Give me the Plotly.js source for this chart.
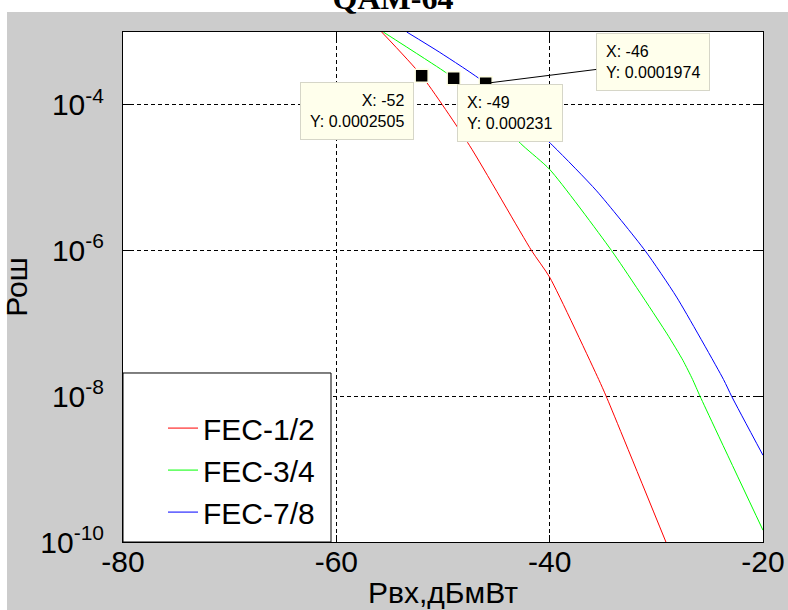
<!DOCTYPE html>
<html>
<head>
<meta charset="utf-8">
<script src="https://cdn.plot.ly/plotly-3.0.1.min.js"></script>
<style>html,body{margin:0;padding:0;background:#fff;}#chart{width:788px;height:610px;}</style>
</head>
<body>
<div id="chart"></div>
<script>
// Series (x in dBm, y = bit error probability)
var seriesNames = ['FEC-1/2', 'FEC-3/4', 'FEC-7/8'];
var seriesColors = ['#ff0000', '#00ff00', '#0000ff'];

var xFec12 = [-55.75, -52, -47.5, -41.7, -40, -35.4, -34.7, -29.1];
var yFec12 = [1.0e-3, 2.505e-4, 2.75e-5, 1.0e-6, 4.3e-7, 1.7e-8, 1.0e-8, 1.0e-10];

var xFec34 = [-55.6, -50, -49, -42.5, -40, -34.2, -29.0, -27.5, -26.6, -25.9, -20];
var yFec34 = [1.0e-3, 2.95e-4, 2.31e-4, 2.75e-5, 1.3e-5, 1.0e-6, 7.2e-8, 3.1e-8, 1.7e-8, 1.0e-8, 1.45e-10];

var xFec78 = [-53.4, -50.3, -46, -39.7, -35.6, -31.06, -28.1, -23.7, -22.94, -20];
var yFec78 = [1.0e-3, 5.25e-4, 1.974e-4, 2.75e-5, 6.6e-6, 1.0e-6, 2.3e-7, 1.7e-8, 1.0e-8, 1.55e-9];

// Data tips
var tipX = [-52, -49, -46];
var tipY = [0.0002505, 0.000231, 0.0001974];

// Ticks
var xTickVals = [-80, -60, -40, -20];
var xTickText = ['-80', '-60', '-40', '-20'];
var yTickVals = [1e-10, 1e-8, 1e-6, 1e-4];
var yTickText = ['10<sup>-10</sup>', '10<sup>-8</sup>', '10<sup>-6</sup>', '10<sup>-4</sup>'];

var FONT = 'Liberation Sans, Arial, sans-serif';

var xs = [xFec12, xFec34, xFec78];
var ys = [yFec12, yFec34, yFec78];
var traces = [];
for (var i = 0; i < 3; i++) {
  traces.push({
    type: 'scatter', mode: 'lines', name: seriesNames[i],
    x: xs[i], y: ys[i],
    line: {color: seriesColors[i], width: 1, shape: 'spline', smoothing: 0.6},
    hoverinfo: 'x+y'
  });
}
traces.push({
  type: 'scatter', mode: 'markers', x: tipX, y: tipY, showlegend: false,
  marker: {symbol: 'square', size: 13, color: '#000', line: {color: '#ffffe6', width: 1.5}},
  hoverinfo: 'skip'
});

function tipText(i) { return 'X: ' + String(tipX[i]) + '<br>Y: ' + String(tipY[i]); }
var tipBase = {
  xref: 'x', yref: 'y', bgcolor: '#ffffec', bordercolor: '#d6d6c8', borderwidth: 1, borderpad: 9,
  font: {family: FONT, size: 16, color: '#000'}
};
var annotations = [
  Object.assign({}, tipBase, {x: tipX[0], y: Math.log10(tipY[0]), text: tipText(0), showarrow: false,
    xanchor: 'right', yanchor: 'top', xshift: -8, yshift: -6, align: 'right'}),
  Object.assign({}, tipBase, {x: tipX[1], y: Math.log10(tipY[1]), text: tipText(1), showarrow: false,
    xanchor: 'left', yanchor: 'top', xshift: 3, yshift: -6, align: 'left'}),
  Object.assign({}, tipBase, {x: tipX[2], y: Math.log10(tipY[2]), text: tipText(2), showarrow: true,
    arrowhead: 0, arrowwidth: 1, arrowcolor: '#000', ax: 167, ay: -21, standoff: 0, align: 'left'})
];

var shapes = [
  // white strips outside the grey figure area
  {type: 'rect', xref: 'paper', yref: 'paper', x0: -0.2, x1: 1.06, y0: 1.0392, y1: 1.08,
   fillcolor: '#ffffff', line: {width: 0}, layer: 'below'},
  {type: 'rect', xref: 'paper', yref: 'paper', x0: -0.2, x1: -0.18125, y0: -0.15, y1: 1.08,
   fillcolor: '#ffffff', line: {width: 0}, layer: 'below'},
  // legend box
  {type: 'rect', xref: 'paper', yref: 'paper', x0: 0, x1: 0.325, y0: 0, y1: 0.3314,
   fillcolor: '#ffffff', line: {color: '#000', width: 1}, layer: 'above'}
];

var axisCommon = {
  showline: true, linecolor: '#000', linewidth: 1, mirror: 'allticks',
  ticks: 'inside', ticklen: 7, tickcolor: '#000', tickwidth: 1,
  showgrid: true, gridcolor: '#000', gridwidth: 1, griddash: '4px,3px',
  zeroline: false, tickfont: {family: FONT, size: 30, color: '#000'},
  tickmode: 'array'
};

var layout = {
  width: 788, height: 610,
  margin: {l: 123, r: 25, t: 32, b: 68, pad: 0},
  paper_bgcolor: '#cccccc', plot_bgcolor: '#ffffff',
  title: {text: 'QAM-64', font: {family: 'Liberation Serif, Times New Roman, serif', size: 32, weight: 'bold', color: '#000'},
    xref: 'container', yref: 'container', x: 0.4987, xanchor: 'center', y: 0.986, yanchor: 'bottom'},
  xaxis: Object.assign({}, axisCommon, {
    range: [-80, -20], tickvals: xTickVals, ticktext: xTickText, ticklabelstandoff: -7,
    title: {text: 'Рвх,дБмВт', font: {family: FONT, size: 30, color: '#000'}, standoff: 4}
  }),
  yaxis: Object.assign({}, axisCommon, {
    type: 'log', range: [-10, -3], tickvals: yTickVals, ticktext: yTickText, ticklabelstandoff: 12,
    title: {text: 'Рош', font: {family: FONT, size: 30, color: '#000'}, standoff: 8}
  }),
  showlegend: true,
  legend: {x: 0.0625, xanchor: 'left', y: 0.141, yanchor: 'middle', bgcolor: 'rgba(0,0,0,0)', borderwidth: 0,
    font: {family: FONT, size: 30, color: '#000'}},
  shapes: shapes,
  annotations: annotations
};

Plotly.newPlot('chart', traces, layout, {displayModeBar: false, staticPlot: true});
</script>
</body>
</html>
